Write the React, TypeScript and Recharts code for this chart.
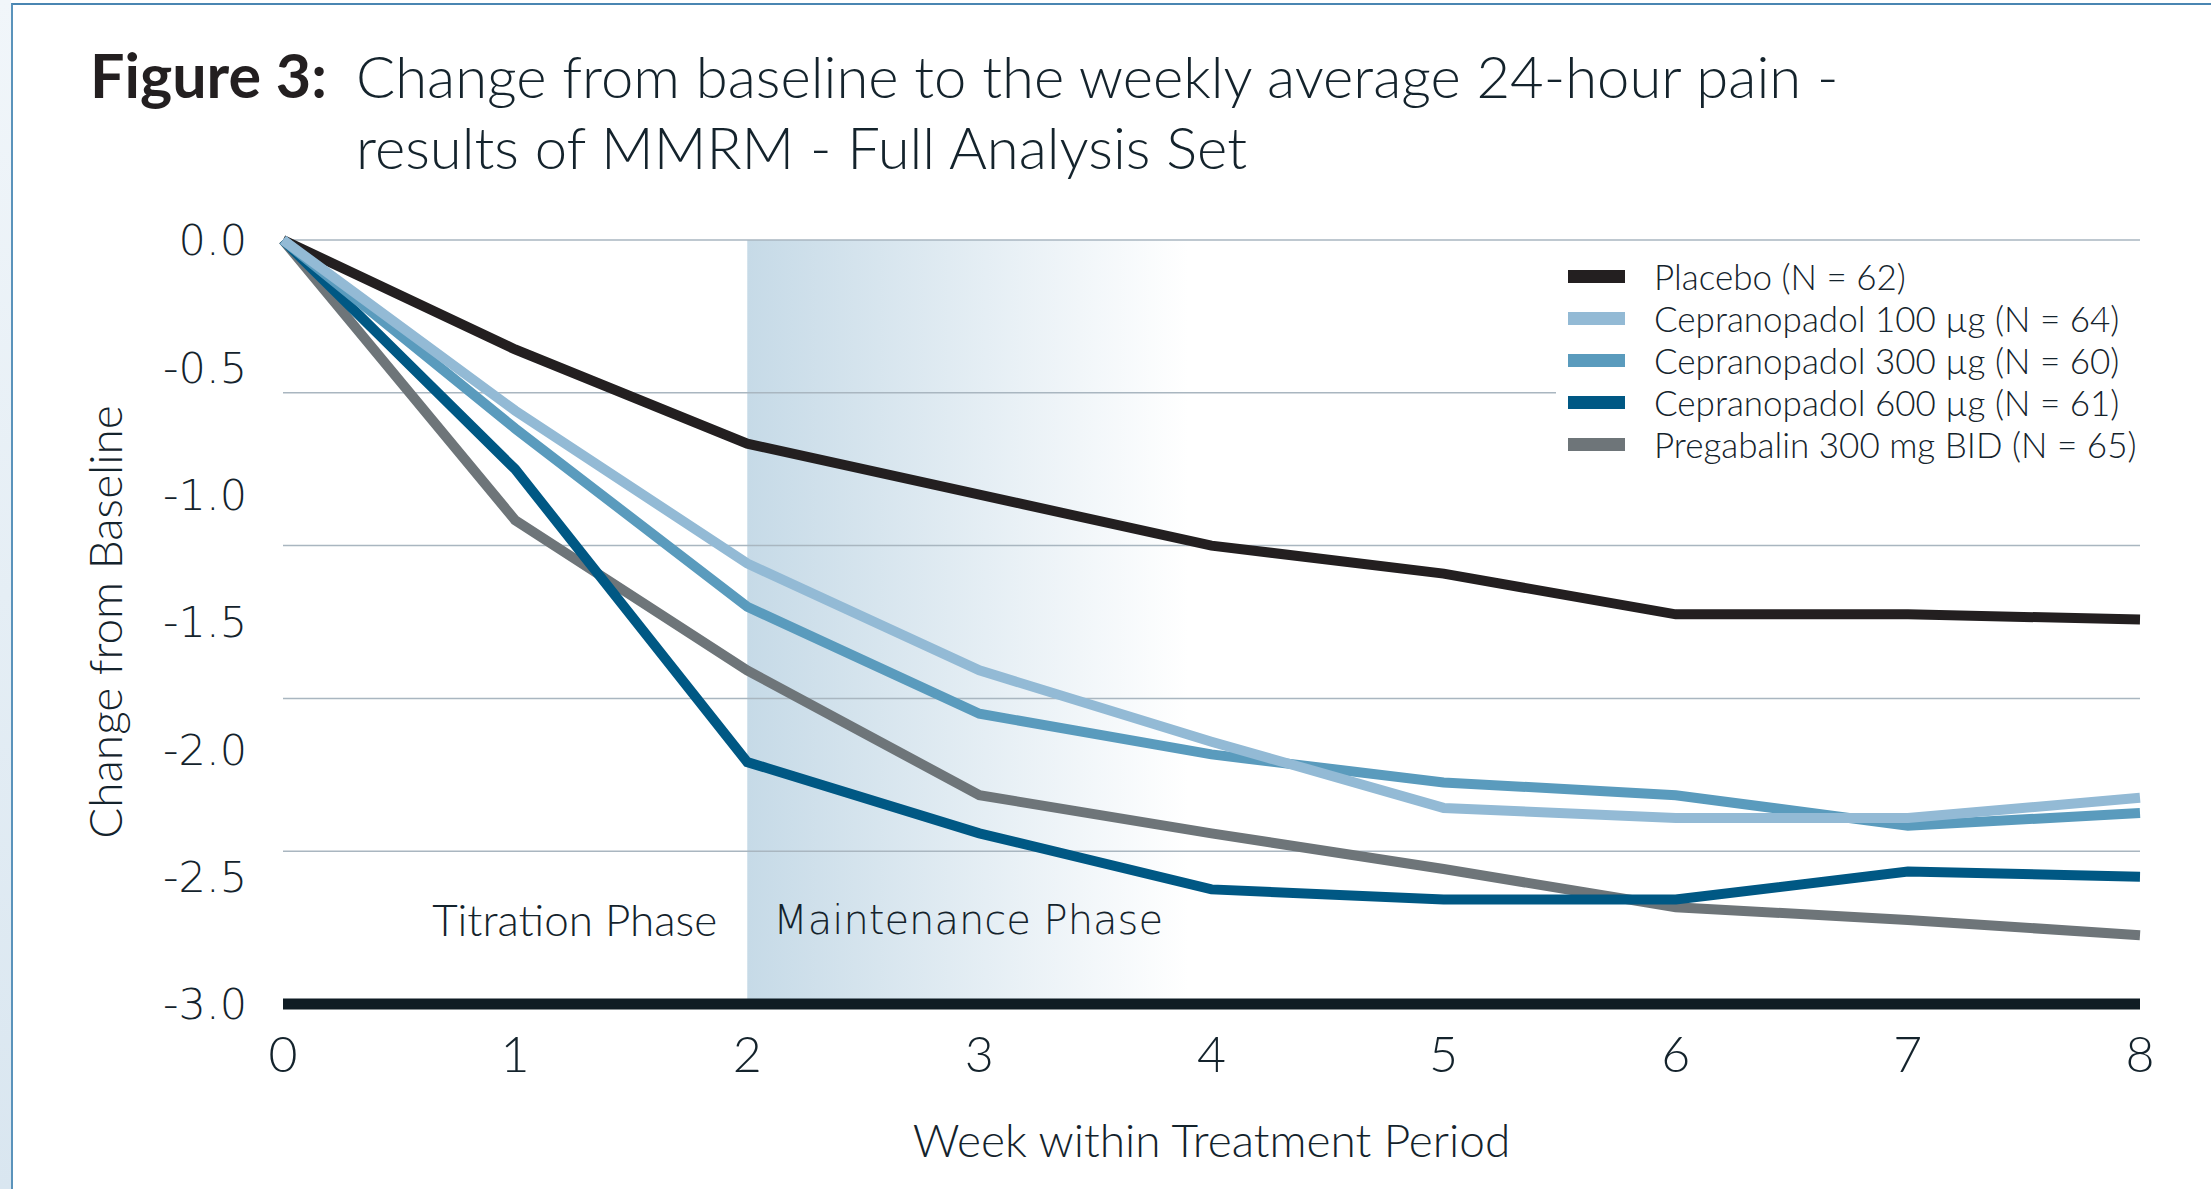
import {
  LineChart,
  Line,
  XAxis,
  YAxis,
  ReferenceLine,
  ReferenceArea,
  ReferenceDot,
  Legend,
} from 'recharts';

// week within treatment period
const weeks = [0, 1, 2, 3, 4, 5, 6, 7, 8];

// change from baseline
const placebo = [0, -0.43, -0.8, -1.0, -1.2, -1.31, -1.47, -1.47, -1.49];
const cep100 = [0, -0.67, -1.27, -1.69, -1.97, -2.23, -2.27, -2.27, -2.19];
const cep300 = [0, -0.74, -1.44, -1.86, -2.02, -2.13, -2.18, -2.3, -2.25];
const cep600 = [0, -0.9, -2.05, -2.33, -2.55, -2.59, -2.59, -2.48, -2.5];
const pregabalin = [0, -1.1, -1.69, -2.18, -2.33, -2.47, -2.62, -2.67, -2.73];

const yTicks = [0, -0.5, -1.0, -1.5, -2.0, -2.5, -3.0];
const gridValues = [0, -0.6, -1.2, -1.8, -2.4];

// legend order
const series = [
  { key: 'placebo', name: 'Placebo (N = 62)', color: '#231f20' },
  { key: 'cep100', name: 'Cepranopadol 100 µg (N = 64)', color: '#93bad5' },
  { key: 'cep300', name: 'Cepranopadol 300 µg (N = 60)', color: '#5a9bbd' },
  { key: 'cep600', name: 'Cepranopadol 600 µg (N = 61)', color: '#005884' },
  { key: 'pregabalin', name: 'Pregabalin 300 mg BID (N = 65)', color: '#6e7579' },
];

// back to front
const drawOrder = ['placebo', 'pregabalin', 'cep600', 'cep300', 'cep100'];

const data = weeks.map((week, i) => ({
  week,
  placebo: placebo[i],
  cep100: cep100[i],
  cep300: cep300[i],
  cep600: cep600[i],
  pregabalin: pregabalin[i],
}));

const textColor = '#14232c';
const mainFont = 'Lato, "Open Sans", sans-serif';
const roundFont = '"DejaVu Sans", "Noto Sans", sans-serif';

const LegendBox = () => (
  <div style={{ background: '#fff', padding: '10px 0 8px 12px' }}>
    {series.map((s) => (
      <div key={s.key} style={{ display: 'flex', alignItems: 'center', height: 42 }}>
        <div style={{ width: 57, height: 13, background: s.color, marginRight: 29 }} />
        <span style={{ fontFamily: mainFont, fontWeight: 300, fontSize: 35, color: textColor, whiteSpace: 'nowrap' }}>
          {s.name}
        </span>
      </div>
    ))}
  </div>
);

const App = () => {
  const colorOf = (k: string) => series.find((s) => s.key === k)!.color;
  return (
    <div style={{ position: 'absolute', left: 0, top: 0, width: 2211, height: 1189, background: '#fff', overflow: 'hidden' }}>
      {/* page frame */}
      <div style={{ position: 'absolute', left: 0, top: 0, width: 11, height: 1189, background: 'linear-gradient(#f1f6fa, #d9e6f0)' }} />
      <div style={{ position: 'absolute', left: 11, top: 3, right: 0, bottom: 0, borderLeft: '2px solid #5a93bb', borderTop: '2px solid #4a86b2' }} />

      {/* title */}
      <div style={{ position: 'absolute', left: 90, top: 39, fontFamily: mainFont, fontWeight: 700, fontSize: 61, color: '#231f20', lineHeight: '71px' }}>
        Figure 3:
      </div>
      <div style={{ position: 'absolute', left: 356, top: 40, fontFamily: mainFont, fontWeight: 300, fontSize: 58, color: textColor, lineHeight: '71px', whiteSpace: 'nowrap' }}>
        Change from baseline to the weekly average 24-hour pain -
        <br />
        results of MMRM - Full Analysis Set
      </div>

      <div style={{ position: 'absolute', left: 0, top: 0 }}>
        <LineChart width={2211} height={1189} data={data} margin={{ top: 240, right: 71, bottom: 0, left: 0 }}>
          <defs>
            <linearGradient id="maintFade" x1="0" y1="0" x2="1" y2="0">
              <stop offset="0%" stopColor="#c6dae7" stopOpacity={1} />
              <stop offset="100%" stopColor="#ffffff" stopOpacity={1} />
            </linearGradient>
          </defs>
          <XAxis
            dataKey="week"
            type="number"
            domain={[0, 8]}
            ticks={weeks}
            axisLine={false}
            tickLine={false}
            tickSize={0}
            tickMargin={32}
            height={185}
            tick={{ fill: textColor, fontFamily: mainFont, fontWeight: 300, fontSize: 50 }}
            label={{
              value: 'Week within Treatment Period',
              position: 'insideBottom',
              offset: 32,
              style: { fill: textColor, fontFamily: mainFont, fontWeight: 300, fontSize: 46 },
            }}
          />
          <YAxis
            type="number"
            domain={[-3, 0]}
            ticks={yTicks}
            axisLine={false}
            tickLine={false}
            tickSize={0}
            tickMargin={36}
            width={283}
            tickFormatter={(v: number) => v.toFixed(1)}
            tick={{ fill: textColor, fontFamily: roundFont, fontWeight: 200, fontSize: 43 }}
            label={{
              value: 'Change from Baseline',
              angle: -90,
              position: 'insideLeft',
              offset: 106,
              style: { textAnchor: 'middle', fill: textColor, fontFamily: mainFont, fontWeight: 300, fontSize: 46 },
            }}
          />
          <ReferenceArea x1={2} x2={3.9} y1={-3} y2={0} fill="url(#maintFade)" fillOpacity={1} stroke="none" />
          {gridValues.map((v) => (
            <ReferenceLine key={v} y={v} stroke="#a9b6c0" strokeWidth={1.5} />
          ))}
          <ReferenceLine y={-3} stroke="#0f1c24" strokeWidth={11} />
          <ReferenceDot
            x={2}
            y={-2.67}
            r={0}
            fill="none"
            stroke="none"
            label={{ value: 'Titration Phase', position: 'left', offset: 30, style: { fill: textColor, fontFamily: mainFont, fontWeight: 300, fontSize: 44 } }}
          />
          <ReferenceDot
            x={2}
            y={-2.67}
            r={0}
            fill="none"
            stroke="none"
            label={{ value: 'Maintenance Phase', position: 'right', offset: 26, style: { fill: textColor, fontFamily: roundFont, fontWeight: 200, fontSize: 40 } }}
          />
          {drawOrder.map((k) => (
            <Line
              key={k}
              type="linear"
              dataKey={k}
              stroke={colorOf(k)}
              strokeWidth={10}
              dot={false}
              activeDot={false}
              isAnimationActive={false}
            />
          ))}
          <Legend
            layout="vertical"
            align="center"
            verticalAlign="middle"
            content={<LegendBox />}
            wrapperStyle={{ position: 'absolute', left: 1556, top: 245, width: 600, right: 'auto', bottom: 'auto' }}
          />
        </LineChart>
      </div>
    </div>
  );
};

export default App;
